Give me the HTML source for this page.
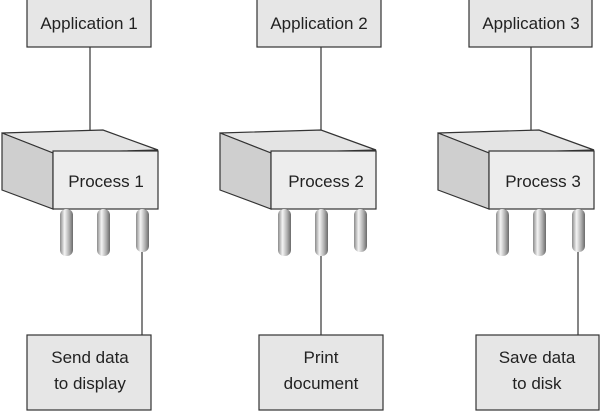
<!DOCTYPE html>
<html><head><style>html,body{margin:0;padding:0;background:#fff;}svg{display:block}</style></head>
<body>
<svg width="600" height="411" viewBox="0 0 600 411" xmlns="http://www.w3.org/2000/svg" font-family="'Liberation Sans',sans-serif" font-size="17" fill="#222">
<defs>
<linearGradient id="pin" x1="0" x2="1" y1="0" y2="0">
<stop offset="0" stop-color="#8a8a8a"/><stop offset="0.35" stop-color="#f4f4f4"/><stop offset="0.7" stop-color="#b0b0b0"/><stop offset="1" stop-color="#6a6a6a"/>
</linearGradient>
<g id="cube">
<path d="M2,133 L103,130 L158,150 L53,153 Z" fill="#e4e4e4" stroke="#333" stroke-width="1.2"/>
<path d="M2,133 L53,153 L53,209 L2,190 Z" fill="#cfcfcf" stroke="#333" stroke-width="1.2"/>
<rect x="53" y="151" width="105" height="58" fill="#ededed" stroke="#333" stroke-width="1.2"/>
<rect x="60" y="209" width="13" height="47" rx="6" fill="url(#pin)"/>
<rect x="97" y="209" width="13" height="47" rx="6" fill="url(#pin)"/>
<rect x="136" y="209" width="13" height="43" rx="6" fill="url(#pin)"/>
</g>
</defs>
<g stroke="#333" stroke-width="1.2" fill="#e6e6e6">
<rect x="27" y="-1" width="124" height="48"/>
<rect x="257" y="-1" width="124" height="48"/>
<rect x="469" y="-1" width="123" height="48"/>
<rect x="27" y="335" width="124" height="75"/>
<rect x="259" y="335" width="124" height="75"/>
<rect x="476" y="335" width="123" height="75"/>
<line x1="90" y1="47" x2="90" y2="131"/>
<line x1="321" y1="47" x2="321" y2="131"/>
<line x1="531" y1="47" x2="531" y2="131"/>
<line x1="142" y1="252" x2="142" y2="335"/>
<line x1="321" y1="256" x2="321" y2="335"/>
<line x1="578" y1="252" x2="578" y2="335"/>
</g>
<use href="#cube"/>
<use href="#cube" x="218"/>
<use href="#cube" x="436"/>
<g text-anchor="middle">
<text x="89" y="29">Application 1</text>
<text x="319" y="29">Application 2</text>
<text x="531" y="29">Application 3</text>
<text x="106" y="187">Process 1</text>
<text x="326" y="187">Process 2</text>
<text x="543" y="187">Process 3</text>
<text x="90" y="363">Send data</text>
<text x="90" y="389">to display</text>
<text x="321" y="363">Print</text>
<text x="321" y="389">document</text>
<text x="537" y="363">Save data</text>
<text x="537" y="389">to disk</text>
</g>
</svg>
</body></html>
